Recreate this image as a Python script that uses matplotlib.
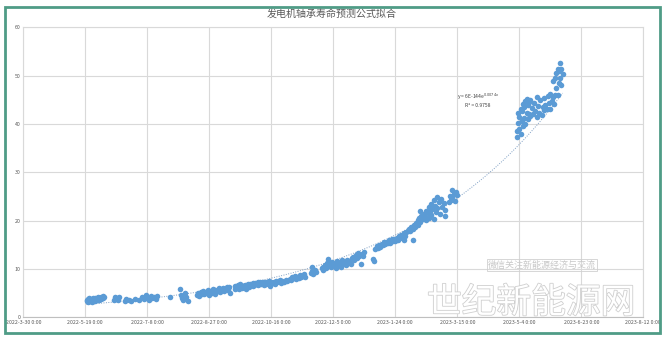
import numpy as np
import matplotlib
matplotlib.use('Agg')
import matplotlib.pyplot as plt
import matplotlib.dates as mdates
import matplotlib.patheffects as pe
from matplotlib.patches import Rectangle
from matplotlib.ticker import FuncFormatter

plt.rcParams['font.family'] = ['Noto Sans CJK SC', 'DejaVu Sans']

title = '发电机轴承寿命预测公式拟合'
start = np.datetime64('2022-03-30')

days = [51, 51, 52, 52, 53, 53, 54, 55, 55, 56, 56, 57, 58, 58, 59, 60, 60, 61, 62, 63, 63, 64, 64, 65,
        73, 74, 75, 76, 77, 82, 83, 85, 87, 90, 93,
        96, 97, 99, 100, 101, 103, 104, 105, 107, 108, 118,
        126, 127, 128, 129, 130, 131, 133,
        140, 141, 142, 143, 144, 145, 145, 146, 147, 148, 149, 150, 150, 151, 152, 153, 154, 155, 155,
        156, 157, 158, 159, 160, 160, 161, 162, 163, 164, 165, 166, 167,
        171, 171, 172, 173, 174, 175, 175, 176, 177, 178, 179, 180, 180, 181, 182, 183, 184, 185, 185,
        186, 187, 188, 189, 189, 190, 191, 192, 192, 193, 194, 195, 196, 196, 197, 198, 199, 200,
        201, 202, 203, 204, 205, 206, 207, 208, 209, 210, 212, 213,
        215, 216, 217, 218, 219, 220, 221, 222, 223, 224, 225, 226, 227,
        232, 233, 233, 234, 235, 236,
        241, 242, 242, 243, 244, 245, 246, 246, 247, 248, 249, 250, 251, 252, 253, 254, 255, 256, 257,
        258, 259, 260, 261, 262, 263, 264, 265,
        266, 267, 268, 269, 270, 271, 272, 273, 274, 275, 282, 283,
        284, 285, 286, 287, 288, 289, 290, 291, 292, 293, 294, 295, 296, 297, 298, 299, 300, 301, 302,
        303, 304, 305, 306, 307, 307, 308, 309, 314,
        310, 311, 312, 313, 314, 315, 316, 317, 318, 318, 319, 320, 320, 321, 322, 323,
        324, 325, 325, 326, 327, 327, 328, 329, 329, 330, 331, 331, 332, 333, 334, 334, 335, 336, 337,
        338, 339, 340, 340,
        343, 344, 345, 346, 346, 347, 348, 349, 350,
        398, 398, 399, 399, 400, 400, 401, 401, 402, 402, 403, 403, 404, 404, 405, 405, 406, 406, 407,
        407, 408, 408, 409, 409, 410, 411, 412, 413, 414, 414, 415, 416, 417, 418, 419, 420, 420, 421,
        422, 423, 424, 425, 425, 426, 427, 427, 428, 429, 429, 430, 430, 431, 431, 432, 432, 433, 433,
        434, 434, 435]
life = [3.3, 3.6, 3.1, 3.8, 3.5, 4.0, 3.4, 3.7, 3.2, 3.9, 3.5, 3.6, 4.0, 3.4, 3.8, 3.5, 4.1, 3.6, 3.9, 4.2, 3.7, 4.4, 3.9, 4.1,
        3.6, 4.2, 3.9, 3.5, 4.3, 3.4, 3.8, 3.6, 3.3, 3.7, 3.5,
        4.3, 3.8, 4.6, 4.0, 3.6, 4.4, 3.9, 4.2, 3.7, 4.5, 4.2,
        5.9, 4.6, 4.0, 3.6, 5.0, 4.3, 3.4,
        4.7, 5.1, 4.5, 5.3, 4.9, 5.5, 5.0, 4.8, 5.2, 5.0, 5.6, 4.6, 5.3, 5.4, 5.1, 5.8, 5.3, 4.9, 5.6,
        5.7, 5.5, 6.1, 5.2, 5.6, 5.9, 6.0, 5.4, 5.9, 6.3, 5.7, 6.2, 5.0,
        5.9, 6.4, 6.1, 6.6, 5.8, 6.3, 6.8, 6.0, 6.5, 6.2, 6.7, 6.4, 5.9, 6.8, 6.3, 6.9, 6.6, 7.0, 6.4,
        6.7, 7.1, 6.8, 7.2, 6.6, 6.9, 7.3, 6.8, 7.0, 7.4, 6.6, 7.1, 7.3, 6.9, 7.0, 7.5, 6.5, 7.2,
        7.0, 7.4, 6.9, 7.6, 7.2, 7.5, 7.8, 7.1, 7.6, 7.3, 7.7, 7.5,
        8.0, 7.8, 8.3, 8.1, 8.5, 7.9, 8.4, 8.2, 8.7, 8.3, 8.6, 8.9, 8.4,
        9.2, 10.4, 9.6, 9.0, 9.8, 9.4,
        10.1, 10.5, 9.8, 10.8, 10.2, 11.3, 12.0, 10.6, 11.0, 10.4, 11.4, 10.7, 11.1, 10.3, 11.6, 10.9, 11.2, 10.5, 11.8,
        11.0, 11.5, 10.8, 11.9, 11.3, 11.7, 11.1, 12.2,
        12.5, 11.8, 12.9, 12.3, 13.4, 12.7, 11.0, 13.1, 12.6, 13.6, 12.0, 11.6,
        14.2, 14.8, 14.4, 15.0, 14.6, 15.2, 14.9, 15.5, 15.1, 15.6, 15.3, 15.9, 15.4, 16.1, 15.7, 16.3, 15.8, 16.5, 16.0,
        16.8, 16.4, 17.1, 16.6, 17.4, 15.9, 16.9, 17.6, 16.0,
        17.8, 18.3, 17.9, 18.6, 18.2, 19.1, 18.7, 19.5, 20.2, 19.0, 20.6, 21.9, 19.8, 20.9, 20.3, 21.4,
        20.8, 22.0, 20.1, 21.5, 22.8, 20.6, 21.9, 23.5, 21.2, 22.4, 24.2, 20.4, 23.0, 21.7, 24.8, 22.6, 23.8, 21.3, 24.5,
        22.9, 23.6, 20.9, 22.2,
        23.8, 25.0, 24.3, 26.3, 24.8, 25.6, 24.1, 25.9, 25.2,
        37.2, 38.5, 40.1, 42.2, 39.0, 41.5, 37.9, 43.0, 40.6, 42.7, 39.5, 44.1, 41.2, 43.6, 40.0, 44.8, 42.3, 45.2, 41.0,
        43.9, 44.6, 42.1, 45.0, 41.6, 43.3, 42.0, 44.3, 42.6, 45.5, 41.4, 43.7, 42.3, 44.9, 41.9, 43.5, 45.3, 42.8, 44.0,
        43.1, 45.8, 44.4, 43.0, 46.2, 44.8, 45.6, 48.9, 44.2, 49.6, 45.9, 50.5, 47.4, 51.4, 46.0, 51.0, 48.4, 52.6, 49.5,
        51.3, 48.0, 50.3]

tick_days = [0, 50, 100, 150, 200, 250, 300, 350, 400, 450, 500]
eq_text = 'y = 6E-144e$^{0.0074x}$'
r2_text = 'R² = 0.9758'

days = np.array(days)
life = np.array(life)
dates = start + days.astype('timedelta64[D]')

# exponential trendline, as Excel does it
k, b = np.polyfit(days, np.log(life), 1)
trend_days = np.arange(days.min(), days.max() + 1)
trend_dates = start + trend_days.astype('timedelta64[D]')

fig = plt.figure(figsize=(6.64, 3.37), dpi=100)
ax = fig.add_axes([0.0351, 0.0585, 0.9337, 0.8605])

ax.scatter(dates, life, s=16, color='#5b9bd5', linewidths=0, zorder=3)
ax.plot(trend_dates, np.exp(b + k * trend_days), color='#7f9fc4', lw=0.7, ls=(0, (1, 1.5)), zorder=2)

ticks = start + np.array(tick_days).astype('timedelta64[D]')
ax.set_xlim(ticks[0], ticks[-1])
ax.set_xticks(ticks)
ax.xaxis.set_major_formatter(FuncFormatter(
    lambda v, pos: '{0.year}-{0.month}-{0.day} 0:00'.format(mdates.num2date(v))))
ax.set_ylim(0, 60)
ax.set_yticks(range(0, 61, 10))
ax.tick_params(labelsize=3.8, colors='#595959', length=0, pad=2)
ax.grid(True, color='#d9d9d9', lw=0.8)
ax.set_axisbelow(True)
for s in ax.spines.values():
    s.set_color('#d9d9d9')
    s.set_linewidth(0.8)
ax.spines['bottom'].set_color('#bfbfbf')

fig.text(0.5, 0.958, title, ha='center', va='center', fontsize=7.2, color='#595959')
ax.text(0.70, 0.755, eq_text, transform=ax.transAxes, fontsize=3.6, color='#404040', ha='left')
ax.text(0.712, 0.725, r2_text, transform=ax.transAxes, fontsize=3.6, color='#404040', ha='left')

# watermark
fig.text(0.735, 0.205, '微信关注新能源经济与交流', fontsize=6.5, color='#c8c8c8',
         bbox=dict(boxstyle='square,pad=0.15', fc='none', ec='#d0d0d0', lw=0.6))
fig.text(0.80, 0.10, '世纪新能源网', ha='center', va='center', fontsize=25, color='white',
         path_effects=[pe.withStroke(linewidth=1.2, foreground='#cfcfcf')])

fig.add_artist(Rectangle((0.007, 0.012), 0.987, 0.968, transform=fig.transFigure,
                         fill=False, ec='#4f9c86', lw=2))

fig.savefig('out.png', dpi=100)
